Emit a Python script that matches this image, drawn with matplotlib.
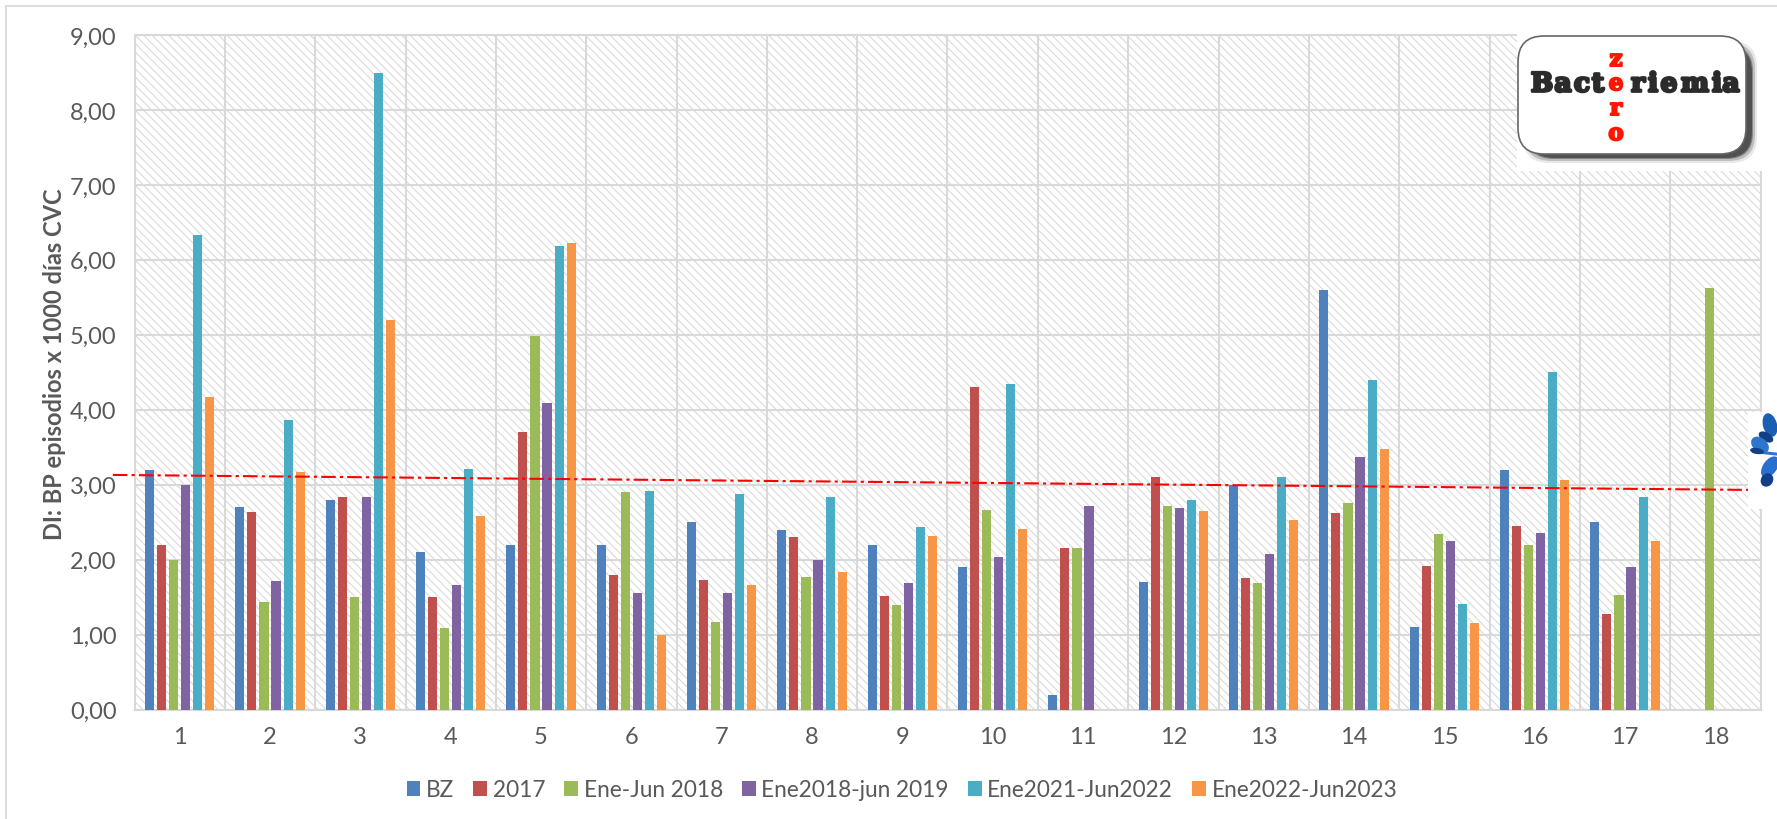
import matplotlib
matplotlib.use("Agg")
import matplotlib.pyplot as plt
from matplotlib.patches import FancyBboxPatch, Rectangle, Ellipse
from matplotlib.transforms import IdentityTransform
import matplotlib.patheffects as pe
import numpy as np

plt.rcParams['font.family'] = ['Lato', 'DejaVu Sans']
plt.rcParams['hatch.color'] = '#d6d6d6'
plt.rcParams['hatch.linewidth'] = 0.7

categories = [str(i) for i in range(1, 19)]
nan = float('nan')

bz = [3.2, 2.7, 2.8, 2.1, 2.2, 2.2, 2.5, 2.4, 2.2, 1.9, 0.2, 1.7, 3.0, 5.6, 1.1, 3.2, 2.5, nan]
y2017 = [2.2, 2.64, 2.83, 1.5, 3.7, 1.8, 1.73, 2.3, 1.52, 4.3, 2.15, 3.1, 1.75, 2.62, 1.92, 2.45, 1.28, nan]
ene_jun_2018 = [2.0, 1.43, 1.5, 1.09, 4.99, 2.9, 1.17, 1.77, 1.4, 2.66, 2.15, 2.71, 1.69, 2.76, 2.34, 2.2, 1.53, 5.62]
ene2018_jun2019 = [3.0, 1.71, 2.84, 1.66, 4.09, 1.56, 1.56, 2.0, 1.69, 2.04, 2.72, 2.69, 2.08, 3.37, 2.25, 2.36, 1.9, nan]
ene2021_jun2022 = [6.33, 3.86, 8.49, 3.21, 6.18, 2.92, 2.88, 2.83, 2.44, 4.34, nan, 2.79, 3.1, 4.4, 1.41, 4.5, 2.84, nan]
ene2022_jun2023 = [4.17, 3.17, 5.2, 2.58, 6.23, 0.99, 1.66, 1.84, 2.31, 2.41, nan, 2.65, 2.53, 3.48, 1.15, 3.06, 2.25, nan]

trend_x = [-0.74, 17.37]
trend_y = [3.13, 2.93]

series = [bz, y2017, ene_jun_2018, ene2018_jun2019, ene2021_jun2022, ene2022_jun2023]
labels = ['BZ', '2017', 'Ene-Jun 2018', 'Ene2018-jun 2019', 'Ene2021-Jun2022', 'Ene2022-Jun2023']
colors = ['#4f81bd', '#c0504d', '#9bbb59', '#8064a2', '#4bacc6', '#f79646']

W, H = 1777, 820
fig = plt.figure(figsize=(W / 100, H / 100), dpi=100, facecolor='white')
px = IdentityTransform()


def box(x0, y0, x1, y1, **kw):
    # rectangle given in image pixels, y going down
    return Rectangle((x0, H - y1), x1 - x0, y1 - y0, transform=px, **kw)


# outer chart border
fig.add_artist(box(6, 7, W + 20, H + 20, fill=False, edgecolor='#dedede', linewidth=1.5))

ax = fig.add_axes([134.5 / W, 1 - 710.5 / H, (1760.5 - 134.5) / W, (710.5 - 36) / H])
ax.patch.set_facecolor('white')
ax.patch.set_hatch('\\\\\\\\')
ax.patch.set_edgecolor('#d6d6d6')
ax.patch.set_linewidth(0)

x = np.arange(18)
step = 0.133
for i, vals in enumerate(series):
    ax.bar(x + (i - 2.5) * step, vals, width=0.1, color=colors[i], label=labels[i], zorder=3)

ax.set_xlim(-0.5, 17.5)
ax.set_ylim(0, 9)
ax.set_yticks(np.arange(0, 10))
ax.set_yticklabels(['%d,00' % v for v in range(10)])
ax.set_xticks(x)
ax.set_xticklabels(categories)
ax.set_xticks(np.arange(-0.5, 18, 1), minor=True)
ax.grid(True, which='minor', axis='x', color='#d9d9d9', linewidth=1.5, zorder=1)
ax.grid(True, which='major', axis='y', color='#d9d9d9', linewidth=1.5, zorder=1)
ax.set_axisbelow(True)
ax.tick_params(which='both', length=0)
ax.tick_params(axis='y', labelsize=17, labelcolor='#595959', pad=13)
ax.tick_params(axis='x', labelsize=17, labelcolor='#595959', pad=12)
for s in ax.spines.values():
    s.set_color('#d9d9d9')
    s.set_linewidth(1.5)
fig.text(55 / W, 1 - 364 / H, 'DI: BP episodios x 1000 días CVC', rotation=90, fontsize=17, fontweight='bold',
         color='#595959', ha='center', va='center')

ax.plot(trend_x, trend_y, color='#ff0000', linewidth=1.5, dashes=(7, 2, 1.5, 2), zorder=4, clip_on=False)

leg = ax.legend(loc='lower center', bbox_to_anchor=(0.472, -0.165), ncol=6, frameon=False, fontsize=16.3,
                labelcolor='#595959', handlelength=0.6, handleheight=0.7, handletextpad=0.25, columnspacing=0.85)

# logo box
fig.add_artist(box(1517, 34, 1762, 172, facecolor='white', edgecolor='none', zorder=5))
for grow, alpha in [(5, 0.12), (3, 0.25), (1, 0.45), (0, 0.8)]:
    fig.add_artist(FancyBboxPatch((1528 - grow, H - 159 - grow), 224 + 2 * grow, 112 + 2 * grow, transform=px,
                                  boxstyle='round,pad=0,rounding_size=26', facecolor='#444444', alpha=alpha,
                                  edgecolor='none', zorder=6))
fig.add_artist(FancyBboxPatch((1518, H - 155), 228, 118, transform=px, boxstyle='round,pad=0,rounding_size=26',
                              facecolor='white', edgecolor='#666666', linewidth=1.2, zorder=7))

# logo lettering, one letter at a time because the original face is much wider
logo_font = dict(family='DejaVu Serif', fontweight='bold', fontsize=19, ha='center', va='center', zorder=8)
thick = [pe.withStroke(linewidth=2, foreground='#2b2b2b')]
for ch, xx in zip('Bact', [1542, 1563, 1582, 1598]):
    fig.text(xx / W, 1 - 85 / H, ch, color='#2b2b2b', path_effects=thick, **logo_font)
for ch, xx in zip('riemia', [1638, 1653, 1669, 1695, 1717, 1731]):
    fig.text(xx / W, 1 - 85 / H, ch, color='#2b2b2b', path_effects=thick, **logo_font)
red = [pe.withStroke(linewidth=1.5, foreground='#ff1500')]
red_font = dict(logo_font, fontsize=16.5)
for ch, yy in zip('zero', [61, 85, 110, 135]):
    fig.text(1616 / W, 1 - yy / H, ch, color='#ff1500', path_effects=red, **red_font)

# blue flower at the right edge
fig.add_artist(box(1748, 413, 1780, 510, facecolor='white', edgecolor='none', zorder=5))
fig.add_artist(Rectangle((1752, H - 454), 30, 3, angle=-6, transform=px, facecolor='#2f75d0', edgecolor='none', zorder=6))
petals = [(1770, 426, 14, 24, 15, '#1a5fb4'), (1766, 438, 16, 9, -30, '#123f85'),
          (1760, 446, 14, 20, 50, '#2f75d0'), (1757, 452, 14, 6, -10, '#123f85'),
          (1770, 468, 14, 24, -35, '#2a6fd0'), (1767, 481, 14, 12, 55, '#123f85')]
for cx, cy, w, h, ang, col in petals:
    fig.add_artist(Ellipse((cx, H - cy), w, h, angle=ang, transform=px, facecolor=col, edgecolor='none', zorder=6))

fig.savefig('out.png', dpi=100)
